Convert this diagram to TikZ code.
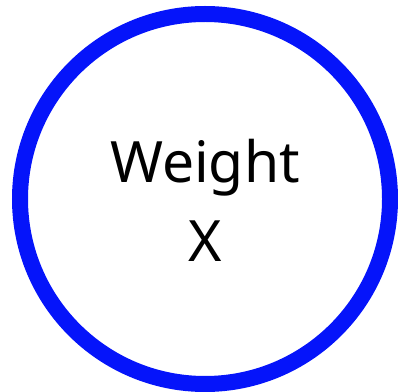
\documentclass[tikz,border=0pt]{standalone}
\usepackage{fontspec}
\setmainfont{Noto Sans}
\definecolor{ringblue}{RGB}{5,20,250}

\begin{document}
\begin{tikzpicture}[x=1pt,y=1pt]
\useasboundingbox (0,0) rectangle (398,391);
\draw[ringblue, line width=16pt] (205,192) circle (185);
\node[font=\fontsize{57}{78}\selectfont, align=center, anchor=base] (weight) at (205,208) {Weight};
\node[font=\fontsize{57}{78}\selectfont, anchor=base] (xval) at (205,130) {X};
\end{tikzpicture}
\end{document}
